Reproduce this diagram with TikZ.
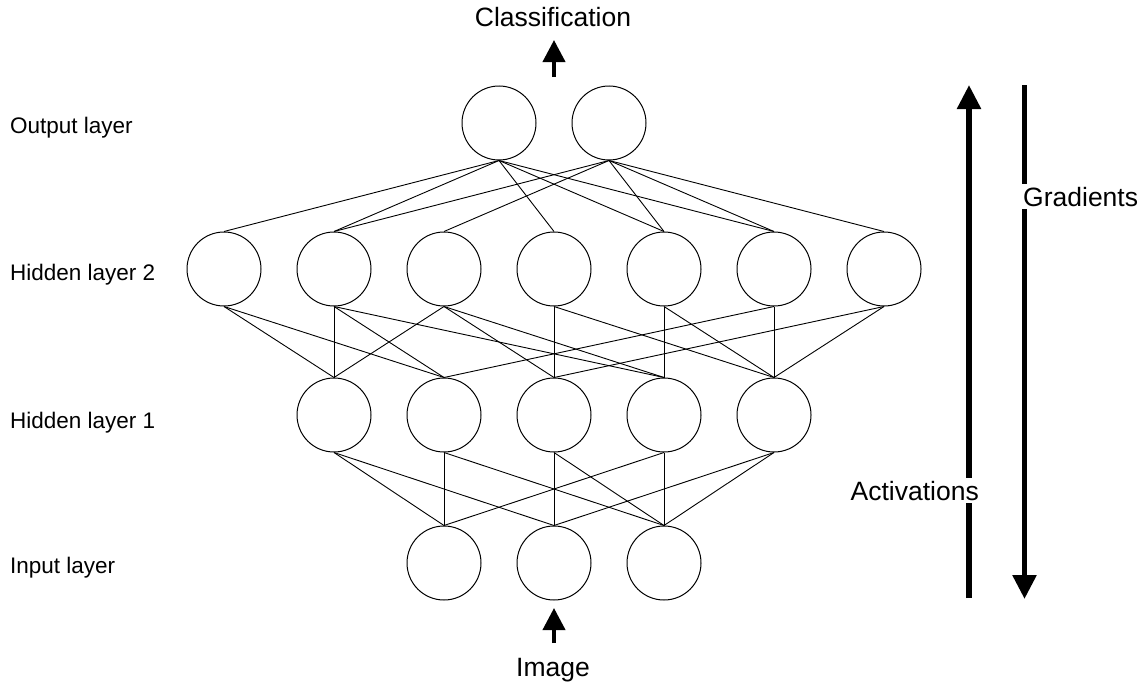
\documentclass[tikz,border=0pt]{standalone}
\usepackage{fontspec}
\setmainfont{Liberation Sans}
\usetikzlibrary{arrows.meta}
\tikzset{
  neuron/.style={circle, draw, line width=1pt, minimum size=74pt, inner sep=0pt},
  conn/.style={line width=0.9pt},
  layerlabel/.style={font=\fontsize{22.5}{27}\selectfont, anchor=base west, inner sep=0pt},
  biglabel/.style={font=\fontsize{26.5}{31}\selectfont, inner sep=0pt},
  gaplabel/.style={biglabel, fill=white, inner ysep=2.5pt, inner xsep=1pt},
  smallarrow/.style={line width=4pt, -{Triangle[width=22pt,length=22pt]}},
  sidearrow/.style={line width=5.5pt, -{Triangle[width=23pt,length=24pt]}}
}
\begin{document}
\begin{tikzpicture}[x=1pt,y=-1pt]
\useasboundingbox (0,0) rectangle (1147,685);
% layer labels
\node[layerlabel] (lout) at (10,133) {Output layer};
\node[layerlabel] (lh2) at (10,280) {Hidden layer 2};
\node[layerlabel] (lh1) at (10,428) {Hidden layer 1};
\node[layerlabel] (lin) at (10,573) {Input layer};
% neurons
\node[neuron] (o1) at (499,123) {};
\node[neuron] (o2) at (609,123) {};
\foreach \i/\x in {1/224,2/334,3/444,4/554,5/664,6/774,7/884}
  \node[neuron] (h2\i) at (\x,269) {};
\foreach \i/\x in {1/334,2/444,3/554,4/664,5/774}
  \node[neuron] (h1\i) at (\x,415) {};
\foreach \i/\x in {1/444,2/554,3/664}
  \node[neuron] (in\i) at (\x,563) {};
% output -> hidden 2
\foreach \j in {1,2,4,5,6} \draw[conn] (o1.south) -- (h2\j.north);
\foreach \j in {2,3,5,6,7} \draw[conn] (o2.south) -- (h2\j.north);
% hidden 2 -> hidden 1
\foreach \a/\b in {1/1,1/2,2/1,2/2,2/4,3/1,3/3,3/4,4/3,4/5,5/4,5/5,6/2,6/5,7/3,7/5}
  \draw[conn] (h2\a.south) -- (h1\b.north);
% hidden 1 -> input
\foreach \a/\b in {1/1,1/2,2/1,2/3,3/2,3/3,4/3,4/1,5/2,5/3}
  \draw[conn] (h1\a.south) -- (in\b.north);
% top and bottom labels
\node[biglabel, anchor=base] (cls) at (553,27) {Classification};
\coordinate (clsA) at (554,77);
\coordinate (clsT) at (554,40);
\draw[smallarrow] (clsA) -- (clsT);
\node[biglabel, anchor=base] (img) at (553,676) {Image};
\coordinate (imgA) at (554,643);
\coordinate (imgT) at (554,608);
\draw[smallarrow] (imgA) -- (imgT);
% side arrows
\coordinate (actB) at (969,598);
\coordinate (actT) at (969,85);
\draw[sidearrow] (actB) -- (actT);
\node[gaplabel, anchor=base east] (act) at (980,500) {Activations};
\coordinate (gradT) at (1024.5,85);
\coordinate (gradB) at (1024.5,599);
\draw[sidearrow] (gradT) -- (gradB);
\node[gaplabel, anchor=base west] (grad) at (1022,206) {Gradients};
\end{tikzpicture}
\end{document}
